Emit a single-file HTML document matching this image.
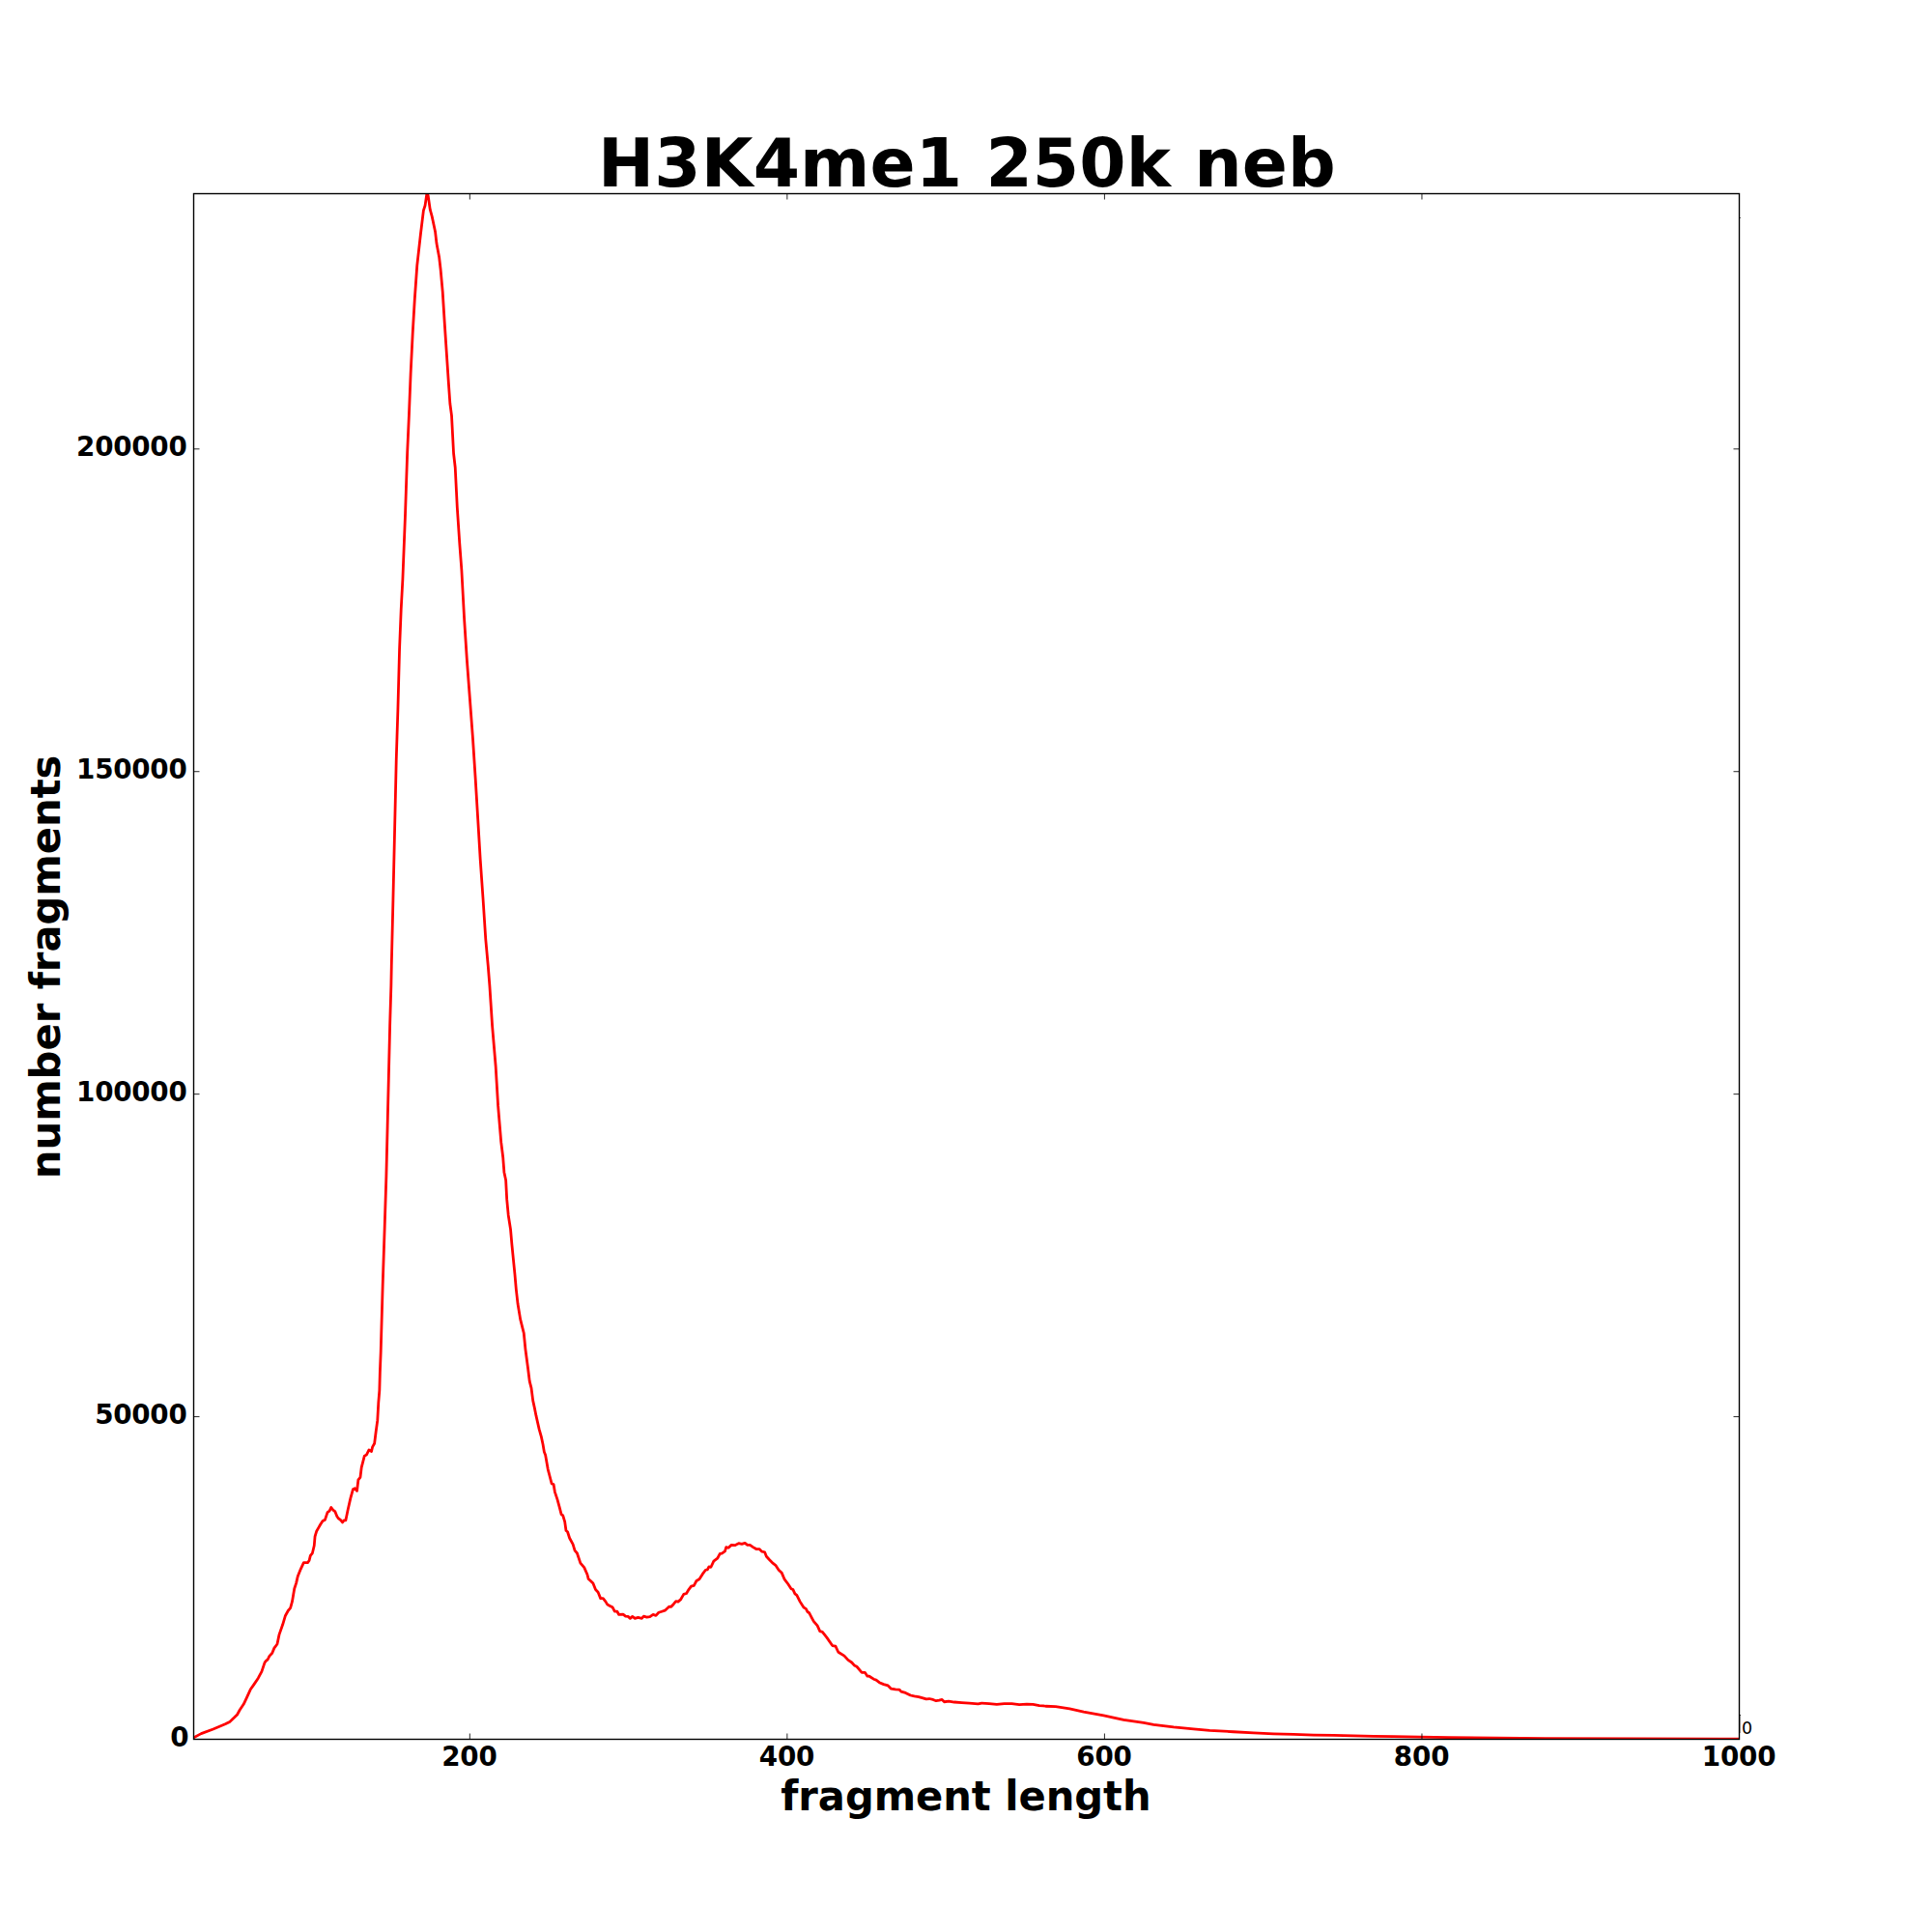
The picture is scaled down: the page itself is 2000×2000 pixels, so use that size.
<!DOCTYPE html>
<html lang="en">
<head>
<meta charset="utf-8">
<title>H3K4me1 250k neb</title>
<style>
html,body{margin:0;padding:0;background:#fff;}
body{width:2000px;height:2000px;overflow:hidden;}
svg{display:block;}
text{font-family:"DejaVu Sans","Liberation Sans",sans-serif;fill:#000;}
.b{font-weight:bold;}
.tk{font-size:27.78px;font-weight:bold;}
.tx{letter-spacing:-0.17px;}
.ty{letter-spacing:-0.25px;}
.lab{font-size:41.67px;font-weight:bold;}
.ttl{font-size:69.44px;font-weight:bold;}
.sm{font-size:17.4px;}
</style>
</head>
<body>
<svg width="2000" height="2000" viewBox="0 0 2000 2000">
<rect x="0" y="0" width="2000" height="2000" fill="#ffffff"/>
<defs><clipPath id="ax"><rect x="200" y="200" width="1600.5" height="1600.5"/></clipPath></defs>
<polyline clip-path="url(#ax)" fill="none" stroke="#ff0000" stroke-width="2.78" stroke-linejoin="round" stroke-linecap="butt" points="200.52,1798.76 208.28,1794.62 220.70,1789.96 233.13,1784.78 237.78,1782.40 242.44,1778.05 245.55,1774.95 248.14,1770.29 252.28,1764.08 255.90,1756.31 259.21,1749.07 263.15,1743.37 267.29,1737.16 270.91,1730.43 274.02,1721.12 275.57,1719.05 277.12,1718.01 278.88,1714.39 281.78,1711.28 283.85,1706.11 286.96,1701.97 289.03,1692.13 292.65,1681.78 295.45,1672.46 298.34,1667.29 300.62,1664.70 302.48,1657.97 304.76,1644.51 306.63,1638.82 308.18,1632.09 311.28,1624.33 314.39,1617.60 318.53,1617.60 320.08,1615.53 321.33,1610.35 323.40,1607.76 325.26,1600.00 326.07,1590.48 327.62,1585.30 329.69,1581.68 331.76,1578.05 334.04,1574.43 336.42,1573.40 339.01,1565.63 341.08,1564.08 342.84,1560.46 344.70,1563.04 346.77,1564.60 348.84,1569.77 350.39,1571.84 352.46,1573.40 354.53,1575.98 356.09,1573.91 357.85,1573.91 360.23,1562.53 362.82,1551.14 365.40,1541.82 367.47,1540.79 369.54,1543.37 370.89,1531.99 372.96,1529.40 374.20,1519.05 377.31,1507.14 379.38,1506.11 381.97,1500.93 384.55,1502.48 385.59,1497.83 387.66,1494.20 389.21,1481.78 390.77,1470.39 391.80,1451.76 392.84,1439.34 393.35,1420.70 394.18,1400.00 396.16,1331.26 398.23,1269.15 399.89,1217.39 401.13,1165.63 402.37,1113.87 403.62,1062.11 404.86,1020.70 405.27,1000.00 406.93,931.26 408.59,858.80 410.24,786.34 411.90,734.58 413.55,672.46 415.21,631.06 416.87,600.00 419.56,531.61 421.63,469.50 423.48,428.10 425.13,386.69 427.20,345.28 429.27,310.08 431.76,274.89 435.49,241.76 438.41,217.95 440.06,212.77 441.72,201.39 442.13,199.94 443.17,202.42 445.24,216.92 447.22,224.16 450.54,239.69 451.98,252.11 454.68,266.60 456.13,279.03 458.20,301.80 460.27,334.93 462.34,365.98 464.41,397.04 465.86,417.74 467.51,430.17 469.58,469.50 471.24,484.00 473.31,525.40 475.79,562.67 477.86,590.00 480.65,641.41 483.34,682.82 486.45,724.22 489.55,765.63 492.24,807.04 494.73,848.45 497.21,889.86 500.10,931.26 502.80,972.67 505.28,1000.00 506.91,1020.70 509.61,1062.11 513.13,1103.52 515.61,1144.93 518.72,1182.19 520.79,1198.76 520.85,1200.00 521.88,1213.46 523.64,1221.74 524.68,1241.41 526.23,1257.97 528.51,1272.46 529.86,1287.99 531.41,1303.52 532.96,1319.05 534.31,1334.58 536.07,1350.10 538.65,1365.63 541.76,1378.05 542.26,1380.00 543.94,1396.82 546.53,1416.23 548.21,1429.82 550.02,1436.94 551.70,1449.88 553.39,1457.64 554.94,1465.40 558.17,1479.64 560.37,1487.40 562.05,1495.17 563.35,1502.93 564.64,1506.16 567.23,1521.05 568.91,1527.52 571.11,1535.93 573.05,1536.57 574.35,1544.34 576.94,1552.10 579.27,1560.51 581.08,1567.63 582.76,1568.92 584.70,1575.39 585.99,1584.45 587.55,1585.75 589.62,1592.22 593.11,1598.69 595.05,1605.16 597.38,1607.74 600.87,1618.10 604.76,1622.62 607.99,1630.00 609.15,1634.58 611.35,1636.52 613.94,1639.10 616.53,1645.57 619.11,1648.16 621.70,1654.63 624.29,1654.63 626.88,1657.87 628.82,1661.10 631.41,1662.40 634.00,1663.69 636.33,1668.22 638.91,1668.22 640.72,1671.45 644.99,1671.07 647.58,1673.14 650.17,1673.40 652.37,1675.34 654.70,1673.40 657.29,1675.34 660.52,1674.43 664.40,1675.34 666.35,1673.14 669.58,1674.04 672.82,1673.65 676.05,1671.45 679.03,1672.36 681.87,1669.25 685.11,1668.22 688.34,1667.18 692.87,1663.04 694.81,1663.30 697.40,1660.46 699.73,1657.61 701.93,1658.13 704.52,1655.93 707.75,1650.36 710.60,1649.46 712.93,1645.57 715.52,1642.08 718.36,1641.30 720.95,1636.52 723.93,1634.83 727.16,1629.66 730.40,1625.26 732.34,1624.87 733.89,1621.89 735.96,1622.28 738.81,1616.20 742.69,1613.22 745.28,1608.44 747.22,1608.05 750.46,1605.85 751.75,1601.58 754.08,1602.23 757.18,1599.38 760.81,1599.64 764.69,1597.70 767.92,1598.34 771.16,1597.31 773.75,1599.38 776.34,1599.38 779.57,1601.58 782.81,1603.52 786.04,1603.52 788.63,1606.11 791.60,1606.75 793.42,1611.28 796.39,1614.52 800.27,1618.40 802.86,1620.34 806.10,1625.26 809.33,1628.36 811.92,1634.58 815.80,1639.75 819.04,1644.67 820.98,1645.57 822.92,1649.84 824.86,1651.40 828.10,1657.87 831.98,1664.08 834.31,1665.37 835.86,1668.48 837.80,1669.77 840.00,1674.04 842.29,1678.29 846.17,1682.82 848.76,1688.64 851.35,1689.29 855.88,1695.11 861.70,1703.52 864.94,1704.17 867.78,1710.25 874.00,1714.13 877.88,1718.40 881.76,1720.99 884.35,1723.96 886.94,1725.26 892.11,1731.34 895.35,1731.34 897.93,1735.22 899.88,1735.22 904.40,1738.20 906.99,1739.10 910.23,1741.69 914.76,1743.63 919.29,1744.93 922.52,1748.16 927.05,1748.81 930.93,1749.07 932.87,1751.14 937.40,1752.43 942.58,1755.02 946.46,1755.93 950.99,1756.57 955.52,1757.87 958.75,1758.90 961.99,1758.51 965.87,1759.42 969.10,1760.71 972.34,1760.20 975.19,1759.42 977.52,1761.75 982.04,1761.10 987.87,1762.01 995.63,1762.53 1003.40,1763.04 1012.45,1763.82 1016.34,1763.04 1024.10,1763.69 1031.86,1764.34 1039.63,1763.69 1047.39,1763.69 1055.16,1764.60 1062.92,1764.08 1069.39,1764.34 1075.86,1765.63 1080.00,1765.89 1082.42,1766.25 1092.77,1766.67 1107.27,1768.94 1121.76,1772.05 1142.46,1775.98 1163.17,1780.33 1183.87,1783.44 1194.22,1785.30 1214.93,1787.99 1235.63,1789.86 1252.19,1791.30 1277.04,1792.75 1297.74,1793.79 1318.45,1794.82 1339.15,1795.45 1359.86,1796.07 1380.56,1796.48 1401.26,1796.89 1421.97,1797.31 1442.67,1797.52 1470.00,1798.14 1500.00,1798.70 1600.00,1799.60 1700.00,1799.90 1800.50,1800.10"/>
<g stroke="#000" stroke-width="0.85" fill="none">
<line x1="486.33" y1="1800.5" x2="486.33" y2="1794.5"/>
<line x1="486.33" y1="200.5" x2="486.33" y2="206.5"/>
<line x1="814.87" y1="1800.5" x2="814.87" y2="1794.5"/>
<line x1="814.87" y1="200.5" x2="814.87" y2="206.5"/>
<line x1="1143.42" y1="1800.5" x2="1143.42" y2="1794.5"/>
<line x1="1143.42" y1="200.5" x2="1143.42" y2="206.5"/>
<line x1="1471.96" y1="1800.5" x2="1471.96" y2="1794.5"/>
<line x1="1471.96" y1="200.5" x2="1471.96" y2="206.5"/>
<line x1="1800.50" y1="1800.5" x2="1800.50" y2="1794.5"/>
<line x1="1800.50" y1="200.5" x2="1800.50" y2="206.5"/>
<line x1="200.5" y1="1800.50" x2="206.5" y2="1800.50"/>
<line x1="1800.5" y1="1800.50" x2="1794.5" y2="1800.50"/>
<line x1="200.5" y1="1466.58" x2="206.5" y2="1466.58"/>
<line x1="1800.5" y1="1466.58" x2="1794.5" y2="1466.58"/>
<line x1="200.5" y1="1132.65" x2="206.5" y2="1132.65"/>
<line x1="1800.5" y1="1132.65" x2="1794.5" y2="1132.65"/>
<line x1="200.5" y1="798.73" x2="206.5" y2="798.73"/>
<line x1="1800.5" y1="798.73" x2="1794.5" y2="798.73"/>
<line x1="200.5" y1="464.80" x2="206.5" y2="464.80"/>
<line x1="1800.5" y1="464.80" x2="1794.5" y2="464.80"/>
</g>
<rect x="200.5" y="200.5" width="1600.0" height="1600.0" fill="none" stroke="#000" stroke-width="1.39"/>
<g stroke="#000" fill="none"><line x1="1801.1" y1="1775" x2="1801.1" y2="1794" stroke-width="0.9" stroke-opacity="0.6"/><line x1="1800.5" y1="225.5" x2="1801.8" y2="225.5" stroke-width="1" stroke-opacity="0.7"/><line x1="1800.5" y1="1775.5" x2="1802" y2="1775.5" stroke-width="1" stroke-opacity="0.7"/></g>
<g class="tk">
<text class="tx" x="485.93" y="1827.6" text-anchor="middle">200</text>
<text class="tx" x="814.47" y="1827.6" text-anchor="middle">400</text>
<text class="tx" x="1143.02" y="1827.6" text-anchor="middle">600</text>
<text class="tx" x="1471.56" y="1827.6" text-anchor="middle">800</text>
<text class="tx" x="1800.10" y="1827.6" text-anchor="middle">1000</text>
<text x="195.30" y="1808.40" text-anchor="end" class="ty">0</text>
<text x="193.50" y="1474.48" text-anchor="end" class="ty">50000</text>
<text x="193.50" y="1139.55" text-anchor="end" class="ty">100000</text>
<text x="193.50" y="805.73" text-anchor="end" class="ty">150000</text>
<text x="193.50" y="471.80" text-anchor="end" class="ty">200000</text>
</g>
<text class="ttl" x="1000.9" y="193.3" text-anchor="middle" textLength="763.6" lengthAdjust="spacing">H3K4me1 250k neb</text>
<text class="lab" transform="translate(999.9,1874) scale(1,1.043)" text-anchor="middle" textLength="383.4" lengthAdjust="spacing">fragment length</text>
<text class="lab" transform="translate(62.1,1000.9) rotate(-90) scale(1,1.022)" text-anchor="middle">number fragments</text>
<text class="sm" x="1802.9" y="1794.8">0</text>
</svg>
</body>
</html>
